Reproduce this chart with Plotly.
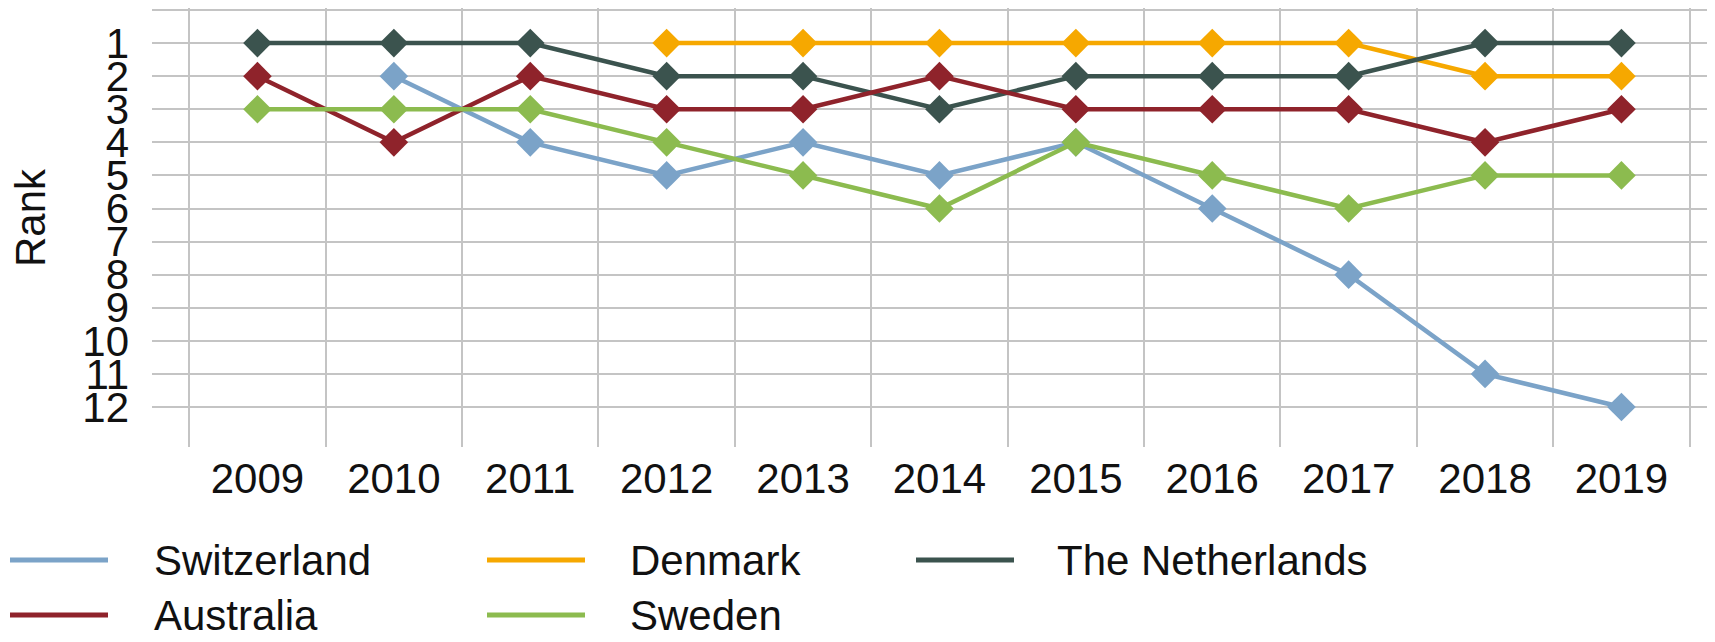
import plotly.graph_objects as go

years = ["2009", "2010", "2011", "2012", "2013", "2014", "2015", "2016", "2017", "2018", "2019"]
switzerland = [None, 2, 4, 5, 4, 5, 4, 6, 8, 11, 12]
denmark = [None, None, None, 1, 1, 1, 1, 1, 1, 2, 2]
netherlands = [1, 1, 1, 2, 2, 3, 2, 2, 2, 1, 1]
australia = [2, 4, 2, 3, 3, 2, 3, 3, 3, 4, 3]
sweden = [3, 3, 3, 4, 5, 6, 4, 5, 6, 5, 5]

series_names = ["Switzerland", "Denmark", "The Netherlands", "Australia", "Sweden"]
series_values = [switzerland, denmark, netherlands, australia, sweden]
colors = ["#7ba3c8", "#f6a800", "#3b534e", "#8f232b", "#8cbb4f"]
rank_ticks = list(range(0, 13))
rank_labels = [""] + [str(i) for i in range(1, 13)]

OFF = 8  # page body margin
W, H = 1715 - 2 * OFF, 642 - 2 * OFF
FONT = "Liberation Sans"
FS = 42

# plot area in reference page pixels
P_LEFT, P_RIGHT, P_TOP, P_BOT = 152, 1715, OFF, 447
ML = P_LEFT - OFF
MR = 0
MT = P_TOP - OFF
MB = H - (P_BOT - OFF)
pw = W - ML - MR
ph = H - MT - MB

def px_to_paper_x(px):
    return (px - OFF - ML) / pw
def px_to_paper_y(py):
    return (H - MB - (py - OFF)) / ph

fig = go.Figure()
xpos = list(range(len(years)))
for name, vals, col in zip(series_names, series_values, colors):
    fig.add_trace(go.Scatter(
        x=xpos, y=vals, name=name, mode="lines+markers",
        line=dict(color=col, width=4.5),
        marker=dict(symbol="diamond", size=22, color=col),
        showlegend=False, connectgaps=False,
    ))

# custom legend (3 columns, filled by rows)
col_line_x = [10, 487, 916]
col_text_x = [152, 628, 1055]
row_y = [560, 615]
for i, (name, col) in enumerate(zip(series_names, colors)):
    r, c = divmod(i, 3)
    y = px_to_paper_y(row_y[r])
    fig.add_shape(type="line", xref="paper", yref="paper",
                  x0=px_to_paper_x(col_line_x[c]), x1=px_to_paper_x(col_line_x[c] + 98),
                  y0=y, y1=y, line=dict(color=col, width=5))
    fig.add_annotation(xref="paper", yref="paper", x=px_to_paper_x(col_text_x[c]), y=y,
                       text=name, showarrow=False, xanchor="left", yanchor="middle",
                       font=dict(family=FONT, size=FS, color="#111111"))

# y-axis title
fig.add_annotation(xref="paper", yref="paper", x=px_to_paper_x(31), y=px_to_paper_y(218),
                   text="Rank", textangle=-90, showarrow=False, xanchor="center", yanchor="middle",
                   font=dict(family=FONT, size=FS, color="#111111"))

ppu = 137.1
x0 = (P_LEFT - 258) / ppu
x1 = (P_RIGHT - 258) / ppu
yppu = (407 - 10) / 12
y_top = (P_TOP - 10) / yppu
y_bot = (P_BOT - 10) / yppu

fig.update_layout(
    width=W, height=H,
    margin=dict(l=ML, r=MR, t=MT, b=MB, pad=0),
    paper_bgcolor="white", plot_bgcolor="white",
    font=dict(family=FONT, size=FS, color="#111111"),
    xaxis=dict(
        range=[x0, x1], tickmode="array", tickvals=xpos, ticktext=years,
        showgrid=False, zeroline=False, showline=False, ticks="",
        ticklabelstandoff=3,
        minor=dict(tick0=-0.5, dtick=1, showgrid=True, gridcolor="#c4c4c4", gridwidth=2),
        tickfont=dict(family=FONT, size=FS, color="#111111"),
    ),
    yaxis=dict(
        range=[y_bot, y_top], tickmode="array", tickvals=rank_ticks, ticktext=rank_labels,
        showgrid=True, gridcolor="#c4c4c4", gridwidth=2, zeroline=False, showline=False,
        ticks="", ticklabelstandoff=22,
        tickfont=dict(family=FONT, size=FS, color="#111111"),
    ),
)

fig.write_html("out.html")
